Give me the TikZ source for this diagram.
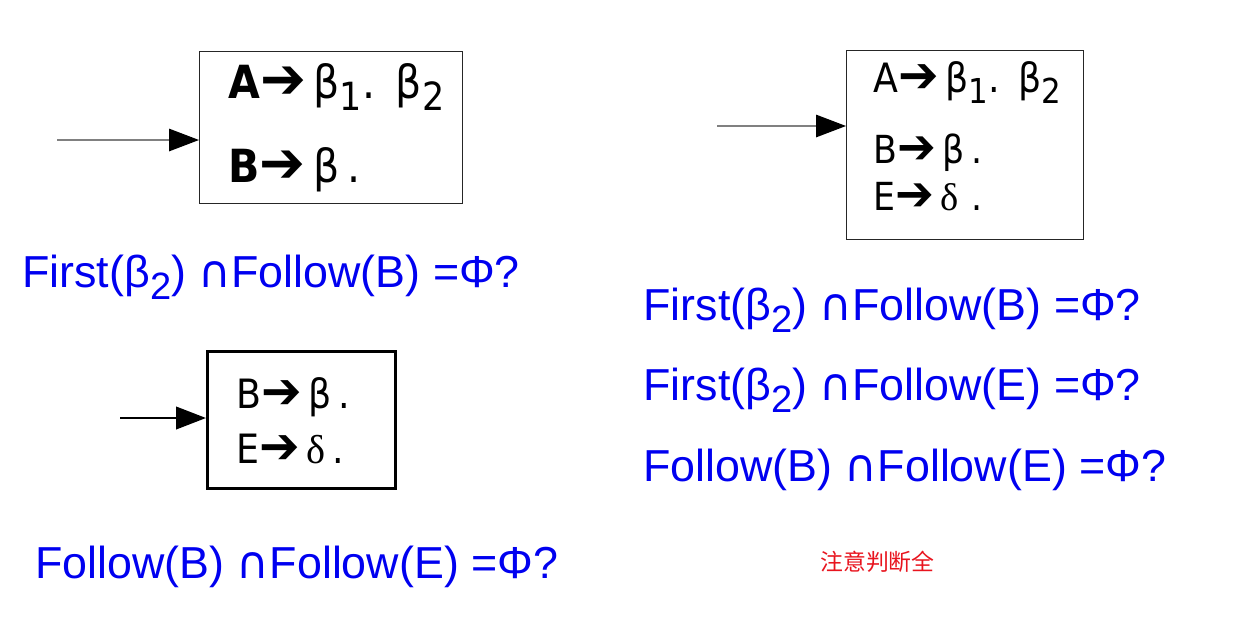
\documentclass[tikz,border=0pt]{standalone}
\usepackage{fontspec}
\setmainfont{Liberation Sans}
\newfontfamily\prodfont{DejaVu Sans Condensed}
\newfontfamily\symfont{DejaVu Sans}
\newfontfamily\greekfont{Liberation Serif}
\newfontfamily\cjkfont{Noto Sans CJK SC}
\usepackage{tikz}
\usetikzlibrary{arrows.meta, positioning}
\definecolor{queryblue}{HTML}{0000F0}
\definecolor{notered}{HTML}{E8141E}
\newcommand{\prodarrow}{{\symfont\scalebox{1.2}[1.25]{➔}}}
\newcommand{\lowsub}[1]{\raisebox{-0.28em}{\scalebox{0.85}{#1}}}
\newcommand{\capsym}{{\symfont ∩}}

\begin{document}
\begin{tikzpicture}[x=0.02cm, y=-0.02cm,
  itembox/.style={draw=black!85, line width=0.6pt, anchor=north west, inner sep=0pt},
  inarrow/.style={draw=black!50, line width=0.8pt, -{Triangle[length=0.6cm, width=0.45cm, black]}},
  prodtext/.style={anchor=base west, inner sep=0pt, font=\prodfont\fontsize{26}{30}\selectfont},
  querytext/.style={anchor=base west, inner sep=0pt, text=queryblue, font=\fontsize{25.5}{30}\selectfont}]
\useasboundingbox (0,0) rectangle (1236,629);

% Box 1
\node[itembox, minimum width=5.26cm, minimum height=3.04cm] (box1) at (199,51) {};
\node[prodtext] (b1r1) at (228,98) {\textbf{A}\prodarrow\,β\lowsub{1}.\ \,β\lowsub{2}};
\node[prodtext] (b1r2) at (228,182) {\textbf{B}\prodarrow\,β\,.};
\coordinate (in1) at (57,140);
\draw[inarrow] (in1) -- (in1 -| box1.west);

% Box 2
\node[itembox, minimum width=4.74cm, minimum height=3.78cm] (box2) at (846,50) {};
\node[prodtext, font=\prodfont\fontsize{23}{26}\selectfont] (b2r1) at (873,92) {A\prodarrow\,β\lowsub{1}.\ \,β\lowsub{2}};
\node[prodtext, font=\prodfont\fontsize{22}{26}\selectfont] (b2r2) at (873,163) {B\prodarrow\,β\,.};
\node[prodtext, font=\prodfont\fontsize{22}{26}\selectfont] (b2r3) at (873,210) {E\prodarrow\,{\greekfont δ}\,\,.};
\coordinate (in2) at (717,126);
\draw[inarrow] (in2) -- (in2 -| box2.west);

% Box 3
\node[itembox, draw=black, line width=1.7pt, minimum width=3.76cm, minimum height=2.74cm] (box3) at (206,350) {};
\node[prodtext, font=\prodfont\fontsize{23}{26}\selectfont] (b3r1) at (236,408) {B\prodarrow\,β\,.};
\node[prodtext, font=\prodfont\fontsize{23}{26}\selectfont] (b3r2) at (236,463) {E\prodarrow\,{\greekfont δ}\,.};
\coordinate (in3) at (120,418);
\draw[inarrow, draw=black, line width=1.4pt] (in3) -- (in3 -| box3.west);

% Conditions
\node[querytext] (q1) at (22,287) {First(β\lowsub{2}) \capsym Follow(B) =Φ?};
\node[querytext] (q2) at (643,320) {First(β\lowsub{2}) \capsym Follow(B) =Φ?};
\node[querytext] (q3) at (643,400) {First(β\lowsub{2}) \capsym Follow(E) =Φ?};
\node[querytext] (q4) at (643,481) {Follow(B) \capsym Follow(E) =Φ?};
\node[querytext] (q5) at (35,578) {Follow(B) \capsym Follow(E) =Φ?};
\node[anchor=base west, inner sep=0pt, text=notered, font=\cjkfont\fontsize{13}{15}\selectfont] (note) at (820,570) {注意判断全};
\end{tikzpicture}
\end{document}
